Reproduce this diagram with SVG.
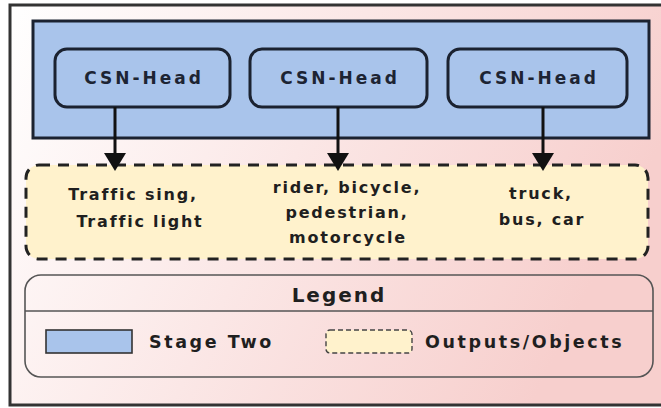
<svg xmlns="http://www.w3.org/2000/svg" width="661" height="408" viewBox="0 0 661 408">
  <defs>
    <linearGradient id="bgGrad" x1="0" y1="0" x2="1" y2="0.3">
      <stop offset="0" stop-color="#ffffff"/>
      <stop offset="1" stop-color="#f7cfcd"/>
    </linearGradient>
    <style>
      .frame { fill: url(#bgGrad); stroke: #333; stroke-width: 3; }
      .stage { fill: #a9c4eb; stroke: #1b2230; stroke-width: 3; }
      .head { fill: #a9c4eb; stroke: #1b2230; stroke-width: 3; }
      .outputs { fill: #fff2cc; stroke: #222; stroke-width: 3; stroke-dasharray: 11 8; }
      .legend { fill: none; stroke: #555; stroke-width: 1.6; }
      .swatch-blue { fill: #a9c4eb; stroke: #333; stroke-width: 1.6; }
      .swatch-yellow { fill: #fff2cc; stroke: #444; stroke-width: 1.4; stroke-dasharray: 5 3; }
      .conn { stroke: #111; stroke-width: 3; fill: none; }
      .arrowtip { fill: #111; }
      text { font-family: "DejaVu Sans", "Liberation Sans", sans-serif; font-weight: bold; fill: #1f1f1f; }
      .headtxt { font-size: 17px; letter-spacing: 3px; fill: #1d2433; text-anchor: middle; }
      .outtxt { font-size: 16px; letter-spacing: 1.8px; text-anchor: middle; }
      .legtitle { font-size: 20px; letter-spacing: 2px; text-anchor: middle; }
      .legtxt { font-size: 17.5px; letter-spacing: 2.6px; }
    </style>
  </defs>

  <!-- outer frame -->
  <rect class="frame" x="10" y="5" width="660" height="400"/>

  <!-- stage two container -->
  <g id="stage-two">
    <rect class="stage" x="33" y="21" width="616" height="117"/>
  </g>

  <g id="head-1">
    <rect class="head" x="55" y="49" width="175" height="58" rx="12"/>
    <text class="headtxt" x="144" y="84">CSN-Head</text>
  </g>
  <g id="head-2">
    <rect class="head" x="250" y="49" width="177" height="58" rx="12"/>
    <text class="headtxt" x="340" y="84">CSN-Head</text>
  </g>
  <g id="head-3">
    <rect class="head" x="448" y="49" width="179" height="58" rx="12"/>
    <text class="headtxt" x="539" y="84">CSN-Head</text>
  </g>

  <!-- outputs container -->
  <g id="outputs">
    <rect class="outputs" x="26" y="165" width="622" height="94" rx="13"/>
    <text class="outtxt" x="133" y="200">Traffic sing,</text>
    <text class="outtxt" x="140" y="227">Traffic light</text>
    <text class="outtxt" x="347" y="193">rider, bicycle,</text>
    <text class="outtxt" x="347" y="218">pedestrian,</text>
    <text class="outtxt" x="348" y="243">motorcycle</text>
    <text class="outtxt" x="541" y="199">truck,</text>
    <text class="outtxt" x="542" y="225">bus, car</text>
  </g>

  <!-- connectors -->
  <g id="connectors">
    <line class="conn" x1="115" y1="107" x2="115" y2="156"/>
    <path class="arrowtip" d="M104,153 L126,153 L115,171 Z"/>
    <line class="conn" x1="338" y1="107" x2="338" y2="156"/>
    <path class="arrowtip" d="M327,153 L349,153 L338,171 Z"/>
    <line class="conn" x1="543" y1="107" x2="543" y2="156"/>
    <path class="arrowtip" d="M532,153 L554,153 L543,171 Z"/>
  </g>

  <!-- legend -->
  <g id="legend">
    <rect class="legend" x="25" y="275" width="628" height="102" rx="16"/>
    <line class="legend" x1="25" y1="311" x2="653" y2="311"/>
    <text class="legtitle" x="339" y="302">Legend</text>
    <rect class="swatch-blue" x="46" y="330" width="86" height="23"/>
    <text class="legtxt" x="149" y="348">Stage Two</text>
    <rect class="swatch-yellow" x="326" y="330" width="86" height="23" rx="4"/>
    <text class="legtxt" x="425" y="348">Outputs/Objects</text>
  </g>
</svg>
